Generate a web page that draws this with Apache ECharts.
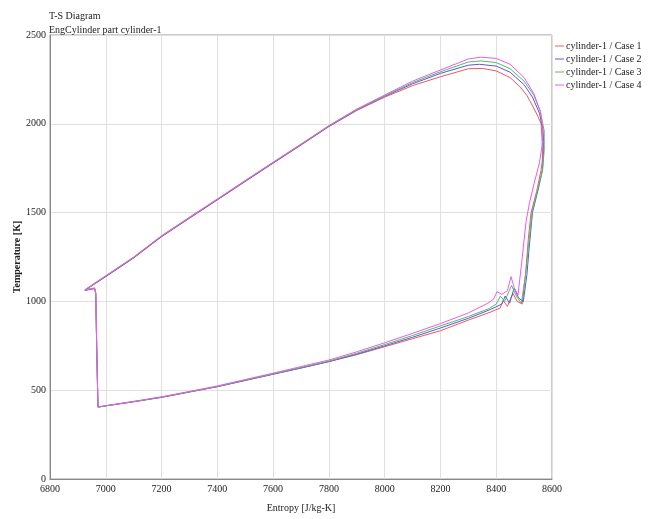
<!DOCTYPE html>
<html>
<head>
<meta charset="utf-8">
<script src="https://cdn.jsdelivr.net/npm/echarts@6/dist/echarts.min.js"></script>
<style>html,body{margin:0;padding:0;background:#fff;}#c{width:650px;height:519px;}</style>
</head>
<body>
<div id="c"></div>
<script>
var seriesNames = ['cylinder-1 / Case 1','cylinder-1 / Case 2','cylinder-1 / Case 3','cylinder-1 / Case 4'];
var xTicks = [6800,7000,7200,7400,7600,7800,8000,8200,8400,8600];
var yTicks = [0,500,1000,1500,2000,2500];

var case1S = [6972,7000,7100,7200,7300,7400,7500,7600,7700,7800,7900,8000,8100,8200,8300,8380,8414,8425,8440,8460,8475,8493,8505,8515,8525,8545,8561,8566,8565,8561,8550,8532,8510,8485,8450,8400,8350,8300,8200,8100,8000,7900,7800,7700,7600,7500,7400,7300,7200,7100,7000,6925,6960,6964,6968,6972];
var case1T = [405,412,435,460,490,520,555,590,625,661,700,745,790,835,895,940,963,1005,972,1045,1000,985,1150,1350,1500,1620,1740,1800,1900,2000,2040,2096,2160,2209,2260,2298,2312,2310,2265,2215,2150,2075,1984,1880,1778,1675,1571,1468,1364,1244,1139,1062,1072,1045,700,405];

var case2S = [6972,7000,7100,7200,7300,7400,7500,7600,7700,7800,7900,8000,8100,8200,8300,8380,8420,8432,8448,8464,8480,8497,8510,8518,8530,8552,8566,8570,8570,8568,8555,8530,8500,8450,8400,8340,8300,8200,8100,8000,7900,7800,7700,7600,7500,7400,7300,7200,7100,7000,6925,6960,6964,6968,6972];
var case2T = [405,412,435,460,490,520,555,590,625,661,703,750,798,850,905,955,985,1030,990,1075,1020,998,1150,1300,1500,1640,1740,1850,1900,1960,2060,2150,2220,2290,2325,2335,2330,2284,2225,2155,2078,1986,1882,1780,1677,1573,1470,1366,1246,1141,1063,1073,1046,700,405];

var case3S = [6972,7000,7100,7200,7300,7400,7500,7600,7700,7800,7900,8000,8100,8200,8300,8375,8400,8415,8430,8455,8472,8490,8505,8515,8528,8550,8566,8572,8572,8558,8535,8500,8450,8400,8345,8300,8200,8100,8000,7900,7800,7700,7600,7500,7400,7300,7200,7100,7000,6925,6960,6964,6968,6972];
var case3T = [405,412,436,461,491,521,557,592,628,664,708,757,808,862,915,960,985,1030,1000,1090,1030,990,1150,1300,1500,1640,1740,1850,1960,2070,2160,2240,2310,2345,2354,2348,2293,2232,2158,2080,1988,1884,1782,1679,1575,1472,1368,1248,1143,1064,1074,1047,700,405];

var case4S = [6972,7000,7100,7200,7300,7400,7500,7600,7700,7800,7900,8000,8100,8200,8300,8370,8390,8403,8420,8440,8453,8465,8478,8490,8507,8520,8539,8555,8565,8567,8558,8535,8500,8450,8400,8345,8300,8200,8100,8000,7900,7800,7700,7600,7500,7400,7300,7200,7100,7000,6925,6960,6964,6968,6972];
var case4T = [405,413,437,463,493,524,560,596,633,670,716,767,820,875,935,990,1012,1055,1040,1060,1139,1075,1036,1200,1450,1560,1684,1780,1880,1980,2070,2170,2260,2335,2368,2375,2365,2303,2240,2162,2083,1990,1886,1784,1681,1577,1474,1370,1250,1145,1066,1076,1048,700,405];

var colors = ['#f05858','#5858e0','#50c060','#f058f0'];
var allS = [case1S, case2S, case3S, case4S];
var allT = [case1T, case2T, case3T, case4T];

function zip(a, b) { return a.map(function (v, i) { return [v, b[i]]; }); }
function plain(v) { return String(v); }

var FONT = "'Liberation Serif', 'Times New Roman', serif";
var chart = echarts.init(document.getElementById('c'), null, { renderer: 'canvas' });
chart.setOption({
  animation: false,
  backgroundColor: '#fff',
  color: colors,
  title: [
    { text: 'T-S Diagram', left: 49, top: 11, padding: 0, textStyle: { fontSize: 10, fontWeight: 'normal', fontFamily: FONT, color: '#222' } },
    { text: 'EngCylinder part cylinder-1', left: 49, top: 25, padding: 0, textStyle: { fontSize: 10, fontWeight: 'normal', fontFamily: FONT, color: '#222' } }
  ],
  legend: {
    orient: 'vertical', left: 555, top: 39.5, padding: 0,
    icon: 'rect', itemWidth: 9, itemHeight: 1, itemGap: 0,
    textStyle: { fontSize: 10, fontFamily: FONT, color: '#222', lineHeight: 13, padding: [0, 0, 0, -3] },
    data: seriesNames
  },
  grid: { left: 50, right: 98, top: 35, bottom: 40, containLabel: false, outerBoundsMode: 'none', show: true, borderColor: '#999', borderWidth: 1 },
  xAxis: {
    type: 'value', min: xTicks[0], max: xTicks[xTicks.length - 1], interval: 200,
    name: 'Entropy [J/kg-K]', nameLocation: 'middle', nameGap: 24, nameMoveOverlap: false,
    nameTextStyle: { fontSize: 10, fontFamily: FONT, color: '#222' },
    axisLine: { lineStyle: { color: '#888' } },
    axisTick: { show: false },
    axisLabel: { fontSize: 10, fontFamily: FONT, color: '#222', margin: 5, formatter: plain },
    splitLine: { show: true, lineStyle: { color: '#e0e0e0' } }
  },
  yAxis: {
    type: 'value', min: yTicks[0], max: yTicks[yTicks.length - 1], interval: 500,
    name: 'Temperature [K]', nameLocation: 'middle', nameGap: 28, nameRotate: 90, nameMoveOverlap: false,
    nameTextStyle: { fontSize: 10, fontFamily: FONT, color: '#222', fontWeight: 'bold' },
    axisLine: { show: true, lineStyle: { color: '#888' } },
    axisTick: { show: false },
    axisLabel: { fontSize: 10, fontFamily: FONT, color: '#222', margin: 4, formatter: plain },
    splitLine: { show: true, lineStyle: { color: '#e0e0e0' } }
  },
  series: seriesNames.map(function (n, i) {
    return {
      name: n, type: 'line', showSymbol: false, symbol: 'none',
      lineStyle: { width: 1, color: colors[i] },
      itemStyle: { color: colors[i] },
      data: zip(allS[i], allT[i])
    };
  })
});
</script>
</body>
</html>
